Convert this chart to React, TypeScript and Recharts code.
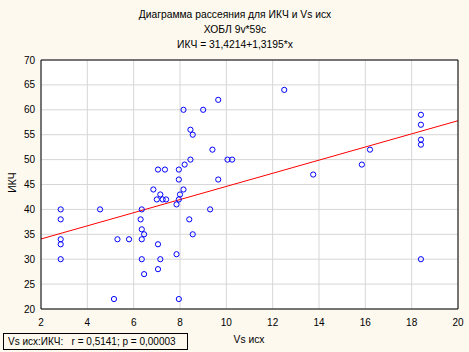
import React from 'react';
import { ScatterChart, Scatter, XAxis, YAxis, CartesianGrid, ReferenceLine } from 'recharts';

const vsIsh = [2.85, 2.85, 2.85, 2.85, 2.85, 4.55, 5.15, 5.3, 5.8, 6.35, 6.3, 6.35, 6.45, 6.35, 6.35, 6.45, 6.85, 7.05, 7.35, 7.0, 7.15, 7.25, 7.4, 7.05, 7.15, 7.05, 7.95, 7.85, 7.95, 7.95, 7.85, 7.95, 8.0, 8.15, 8.15, 9.0, 9.65, 8.45, 8.55, 9.4, 8.45, 8.2, 10.05, 10.25, 9.65, 9.3, 8.4, 8.55, 12.5, 13.75, 15.85, 16.2, 18.4, 18.4, 18.4, 18.4, 18.4];
const ikch = [40, 38, 34, 33, 30, 40, 22, 34, 34, 40, 38, 36, 35, 34, 30, 27, 44, 48, 48, 42, 43, 42, 42, 33, 30, 28, 22, 31, 48, 46, 41, 42, 43, 44, 60, 60, 62, 56, 55, 52, 50, 49, 50, 50, 46, 40, 38, 35, 64, 47, 49, 52, 59, 57, 54, 53, 30];

const fitX = [2, 20];
const fitY = [34.06, 57.81];

const xTicks = [2, 4, 6, 8, 10, 12, 14, 16, 18, 20];
const xMinor = [2, 3, 4, 5, 6, 7, 8, 9, 10, 11, 12, 13, 14, 15, 16, 17, 18, 19, 20];
const yTicks = [20, 25, 30, 35, 40, 45, 50, 55, 60, 65, 70];
const yMinor = [20, 20.5, 21, 21.5, 22, 22.5, 23, 23.5, 24, 24.5, 25, 25.5, 26, 26.5, 27, 27.5, 28, 28.5, 29, 29.5, 30, 30.5, 31, 31.5, 32, 32.5, 33, 33.5, 34, 34.5, 35, 35.5, 36, 36.5, 37, 37.5, 38, 38.5, 39, 39.5, 40, 40.5, 41, 41.5, 42, 42.5, 43, 43.5, 44, 44.5, 45, 45.5, 46, 46.5, 47, 47.5, 48, 48.5, 49, 49.5, 50, 50.5, 51, 51.5, 52, 52.5, 53, 53.5, 54, 54.5, 55, 55.5, 56, 56.5, 57, 57.5, 58, 58.5, 59, 59.5, 60, 60.5, 61, 61.5, 62, 62.5, 63, 63.5, 64, 64.5, 65, 65.5, 66, 66.5, 67, 67.5, 68, 68.5, 69, 69.5, 70];

const titleLines = ['Диаграмма рассеяния для ИКЧ и Vs исх', 'ХОБЛ 9v*59c', 'ИКЧ = 31,4214+1,3195*x'];
const xLabel = 'Vs исх';
const yLabel = 'ИКЧ';
const statText = 'Vs исх:ИКЧ:   r = 0,5141; p = 0,00003';

const data = vsIsh.map((x, i) => ({ x, y: ikch[i] }));

const FONT = '"Liberation Sans", Arial, sans-serif';
const BG = '#fdf9ef';

const Dot = (props: any) => (
  <circle cx={props.cx} cy={props.cy} r={2.6} fill="none" stroke="#0000ff" strokeWidth={1} />
);

export default function App() {
  const xDom: [number, number] = [2, 20];
  const yDom: [number, number] = [20, 70];
  return (
    <div style={{ position: 'absolute', left: 0, top: 0, width: 469, height: 352, background: BG, fontFamily: FONT, overflow: 'hidden' }}>
      {titleLines.map((t, i) => (
        <div key={i} style={{ position: 'absolute', left: 0, width: 470, top: 8 + i * 15, textAlign: 'center', fontSize: 10.3, lineHeight: '13px', color: '#000', whiteSpace: 'pre' }}>{t}</div>
      ))}
      <ScatterChart width={469} height={352} margin={{ top: 60, right: 11, bottom: 23, left: 0 }} style={{ position: 'absolute', left: 0, top: 0 }}>
        <CartesianGrid xAxisId="xm" yAxisId="ym" stroke="#d6d6d6" fill="#ffffff" fillOpacity={1} verticalValues={xTicks} horizontalValues={yTicks} />
        <XAxis xAxisId="xm" type="number" dataKey="x" domain={xDom} ticks={xTicks} allowDataOverflow interval={0}
          tickLine={false} axisLine={{ stroke: '#000' }} height={20} tickMargin={4}
          tick={{ fontSize: 10, fill: '#000', fontFamily: FONT }} />
        <XAxis xAxisId="xb1" type="number" domain={xDom} ticks={xMinor} allowDataOverflow interval={0} mirror tick={false} tickSize={2} axisLine={false} tickLine={{ stroke: '#000' }} />
        <XAxis xAxisId="xt1" orientation="top" type="number" domain={xDom} ticks={xMinor} allowDataOverflow interval={0} mirror tick={false} tickSize={2} axisLine={{ stroke: '#000' }} tickLine={{ stroke: '#000' }} />
        <YAxis yAxisId="ym" type="number" dataKey="y" domain={yDom} ticks={yTicks} allowDataOverflow interval={0}
          tickLine={false} axisLine={{ stroke: '#000' }} width={41} tickMargin={0}
          tick={{ fontSize: 10, fill: '#000', fontFamily: FONT }} />
        <YAxis yAxisId="yl1" type="number" domain={yDom} ticks={yMinor} allowDataOverflow interval={0} mirror tick={false} tickSize={2} axisLine={false} tickLine={{ stroke: '#000' }} />
        <YAxis yAxisId="yr1" orientation="right" type="number" domain={yDom} ticks={yMinor} allowDataOverflow interval={0} mirror tick={false} tickSize={2} axisLine={{ stroke: '#000' }} tickLine={{ stroke: '#000' }} />
        <ReferenceLine xAxisId="xm" yAxisId="ym" segment={[{ x: fitX[0], y: fitY[0] }, { x: fitX[1], y: fitY[1] }]} stroke="#ff0000" strokeWidth={1} />
        <Scatter xAxisId="xm" yAxisId="ym" data={data} shape={Dot} isAnimationActive={false} />
      </ScatterChart>
      <div style={{ position: 'absolute', left: -1, top: 176, width: 26, textAlign: 'center', fontSize: 10.3, lineHeight: '13px', transform: 'rotate(-90deg)', transformOrigin: 'center', color: '#000' }}>{yLabel}</div>
      <div style={{ position: 'absolute', left: 199, width: 100, top: 333, textAlign: 'center', fontSize: 10.3, lineHeight: '13px', color: '#000' }}>{xLabel}</div>
      <div style={{ position: 'absolute', left: 3, top: 333, width: 185, height: 17, border: '1px solid #000', boxSizing: 'border-box', fontSize: 10, lineHeight: '15px', paddingLeft: 4, color: '#000', whiteSpace: 'pre' }}>{statText}</div>
    </div>
  );
}
